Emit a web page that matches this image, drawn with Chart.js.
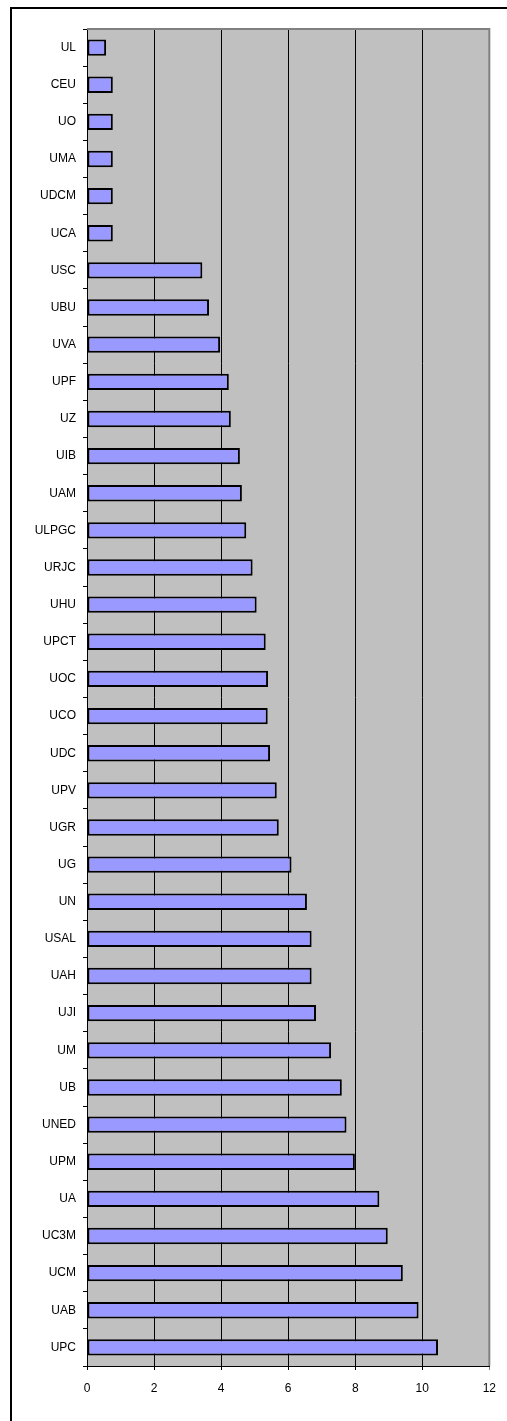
<!DOCTYPE html>
<html>
<head>
<meta charset="utf-8">
<script src="https://cdn.jsdelivr.net/npm/chart.js@4"></script>
<style>
  body { margin: 0; background: #fff; }
  #wrap { position: absolute; left: 0; top: 0; width: 507px; height: 1421px; }
</style>
</head>
<body>
<div id="wrap"><canvas id="chart" width="507" height="1421"></canvas></div>
<script>
// universities, top to bottom as drawn
const universities = ['UL', 'CEU', 'UO', 'UMA', 'UDCM', 'UCA', 'USC', 'UBU', 'UVA', 'UPF',
    'UZ', 'UIB', 'UAM', 'ULPGC', 'URJC', 'UHU', 'UPCT', 'UOC', 'UCO', 'UDC',
    'UPV', 'UGR', 'UG', 'UN', 'USAL', 'UAH', 'UJI', 'UM', 'UB', 'UNED',
    'UPM', 'UA', 'UC3M', 'UCM', 'UAB', 'UPC'];
const scores = [0.57, 0.77, 0.77, 0.77, 0.77, 0.77, 3.44, 3.64, 3.97, 4.23,
    4.29, 4.56, 4.62, 4.75, 4.94, 5.06, 5.33, 5.40, 5.39, 5.46,
    5.66, 5.72, 6.10, 6.56, 6.70, 6.70, 6.83, 7.28, 7.60, 7.74,
    7.99, 8.72, 8.97, 9.42, 9.89, 10.47];
const xTicks = [0, 2, 4, 6, 8, 10, 12];

const font = { family: "'Liberation Sans', Arial, sans-serif", size: 12 };

// grey plot background + outer frame
const framePlugin = {
    id: 'frame',
    beforeDraw(chart) {
        const { ctx, chartArea: a } = chart;
        ctx.save();
        ctx.fillStyle = '#fff';
        ctx.fillRect(0, 0, chart.width, chart.height);
        ctx.fillStyle = '#000';
        ctx.fillRect(10, 7, 2, chart.height - 7);
        ctx.fillRect(10, 7, chart.width - 10, 2);
        ctx.fillStyle = '#c0c0c0';
        ctx.fillRect(a.left, a.top, a.right - a.left, a.bottom - a.top);
        ctx.restore();
    },
    afterDatasetsDraw(chart) {
        const { ctx, chartArea: a } = chart;
        ctx.save();
        ctx.strokeStyle = '#808080';
        ctx.lineWidth = 2;
        ctx.beginPath();
        ctx.moveTo(a.left, a.top);
        ctx.lineTo(a.right, a.top);
        ctx.lineTo(a.right, a.bottom);
        ctx.stroke();
        ctx.restore();
    }
};

new Chart(document.getElementById('chart'), {
    type: 'bar',
    data: {
        labels: universities,
        datasets: [{
            data: scores,
            backgroundColor: '#9999ff',
            borderColor: '#000',
            borderWidth: 2,
            borderSkipped: false,
            categoryPercentage: 1,
            barPercentage: 0.44
        }]
    },
    options: {
        indexAxis: 'y',
        responsive: false,
        animation: false,
        layout: { padding: { top: 29, right: 17, left: 0, bottom: 0 } },
        plugins: { legend: { display: false }, tooltip: { enabled: false } },
        scales: {
            x: {
                min: 0,
                max: 12,
                afterBuildTicks: s => { s.ticks = xTicks.map(v => ({ value: v })); },
                afterFit: s => { s.height = 55; },
                grid: {
                    color: ctx => ctx.tick && ctx.tick.value === 12 ? '#808080' : '#000',
                    lineWidth: 1,
                    tickLength: 4,
                    drawTicks: true
                },
                border: { color: '#000', width: 1 },
                ticks: { color: '#000', font: font, padding: 11, maxRotation: 0 }
            },
            y: {
                afterFit: s => { s.width = 87; },
                grid: {
                    offset: true,
                    drawOnChartArea: false,
                    color: '#000',
                    tickLength: 4
                },
                border: { color: '#000', width: 1 },
                ticks: { color: '#000', font: font, padding: 7, autoSkip: false }
            }
        }
    },
    plugins: [framePlugin]
});
</script>
</body>
</html>
